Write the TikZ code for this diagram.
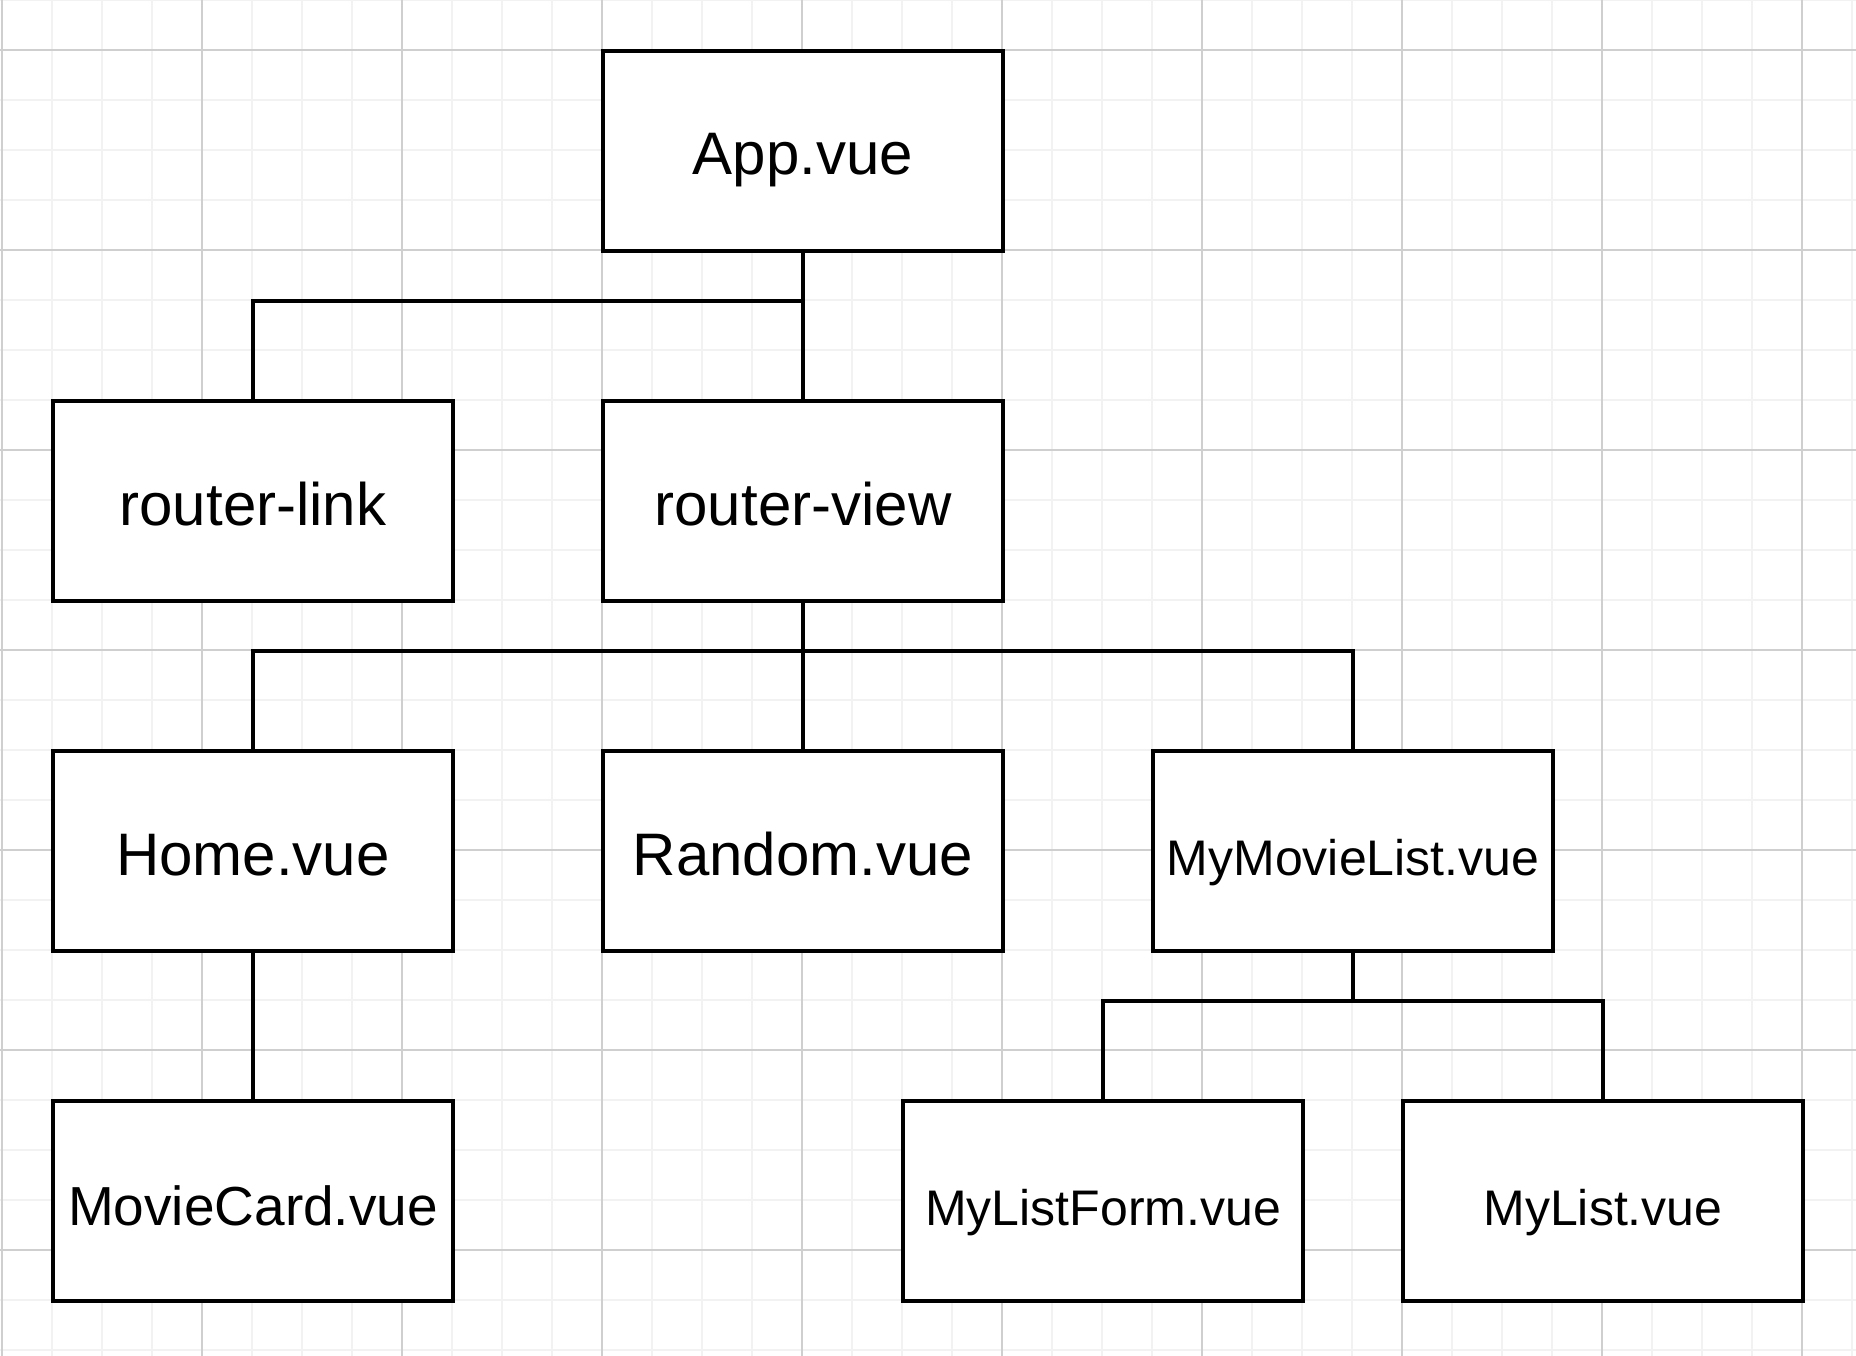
\documentclass[tikz,border=0pt]{standalone}
\usepackage{fontspec}
\setmainfont{Liberation Sans}
\begin{document}
\begin{tikzpicture}[x=1pt,y=-1pt,
  box/.style={draw=black,fill=white,line width=4pt,rectangle,minimum width=400pt,minimum height=200pt,inner sep=0pt,text height=56pt,text depth=8pt,align=center},
  big/.style={font=\fontsize{60pt}{72pt}\selectfont},
  mid/.style={font=\fontsize{55pt}{66pt}\selectfont},
  small/.style={font=\fontsize{50pt}{60pt}\selectfont},
  conn/.style={draw=black,line width=4pt},
  minorgrid/.style={draw=black!5,line width=1.5pt},
  majorgrid/.style={draw=black!19,line width=1.2pt}]
\useasboundingbox (0,0) rectangle (1856,1356);
\fill[white] (0,0) rectangle (1856,1356);
% grid
\foreach \i in {0,...,37} {\draw[minorgrid] (2+50*\i,0) -- (2+50*\i,1356);}
\foreach \j in {0,...,27} {\draw[minorgrid] (0,50*\j) -- (1856,50*\j);}
\foreach \i in {0,...,9} {\draw[majorgrid] (2+200*\i,0) -- (2+200*\i,1356);}
\foreach \j in {0,...,6} {\draw[majorgrid] (0,50+200*\j) -- (1856,50+200*\j);}
% nodes
\node[box,big] (app) at (803,151) {App.vue};
\node[box,big] (rlink) at (253,501) {router-link};
\node[box,big] (rview) at (803,501) {router-view};
\node[box,big] (home) at (253,851) {Home.vue};
\node[box,big] (random) at (803,851) {Random.vue};
\node[box,small] (mml) at (1353,851) {MyMovieList.vue};
\node[box,mid] (card) at (253,1201) {MovieCard.vue};
\node[box,small] (form) at (1103,1201) {MyListForm.vue};
\node[box,small] (mylist) at (1603,1201) {MyList.vue};
% junctions
\coordinate (j1) at (803,301);
\coordinate (j2) at (803,651);
\coordinate (j3) at (1353,1001);
% connectors
\draw[conn] (app.south) -- (rview.north);
\draw[conn] (j1) -| (rlink.north);
\draw[conn] (rview.south) -- (random.north);
\draw[conn] (home.north) |- (j2) -| (mml.north);
\draw[conn] (home.south) -- (card.north);
\draw[conn] (mml.south) -- (j3);
\draw[conn] (form.north) |- (j3) -| (mylist.north);
\end{tikzpicture}
\end{document}
